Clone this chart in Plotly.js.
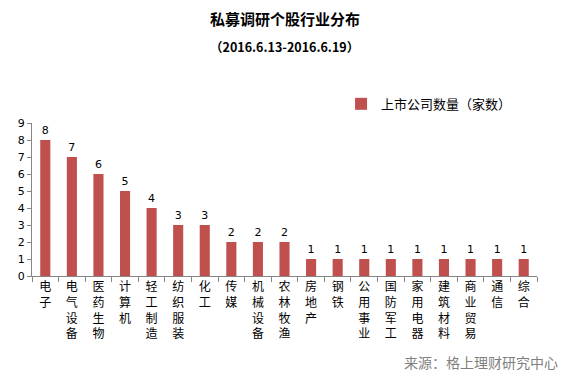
<!DOCTYPE html>
<html><head><meta charset="utf-8">
<script src="https://cdn.plot.ly/plotly-3.0.1.min.js"></script>
<style>body{margin:0;background:#fff}#c{width:563px;height:376px}</style>
</head><body><div id="c"></div>
<script>
const categories = ["电子","电气设备","医药生物","计算机","轻工制造","纺织服装","化工","传媒","机械设备","农林牧渔","房地产","钢铁","公用事业","国防军工","家用电器","建筑材料","商业贸易","通信","综合"];
const values = [8,7,6,5,4,3,3,2,2,2,1,1,1,1,1,1,1,1,1];
const seriesName = "上市公司数量（家数）";
const titleText = "私募调研个股行业分布";
const subtitleText = "（2016.6.13-2016.6.19）";
const sourceText = "来源：格上理财研究中心";

const cjk = '"Noto Sans CJK SC", "Noto Sans", sans-serif';
const vertLabels = categories.map(c => c.split('').join('<br>'));
const idx = categories.map((c,i)=>i);
const bounds = categories.map((c,i)=>i-0.5).concat([categories.length-0.5]);

const trace = {
  type:'bar', x: idx, y: values, name: seriesName,
  marker:{color:'#C0504D'},
  text: values.map(String), textposition:'outside', cliponaxis:false,
  textfont:{family:'DejaVu Sans, sans-serif', size:11, color:'#000'},
  showlegend:true
};
const dummy = {type:'scatter', x:[0], y:[0], xaxis:'x2', mode:'markers', marker:{opacity:0}, showlegend:false, hoverinfo:'skip'};

const layout = {
  width:563, height:376,
  margin:{l:32, r:26, t:123, b:100},
  paper_bgcolor:'#fff', plot_bgcolor:'#fff',
  bargap:0.62,
  font:{family:cjk, color:'#000'},
  xaxis:{range:[-0.5, categories.length-0.5], tickmode:'array', tickvals: idx, ticktext: vertLabels,
         ticks:'', showline:true, linecolor:'#868686', linewidth:1, showgrid:false, zeroline:false,
         tickfont:{family:cjk, size:12, color:'#000'}, tickangle:0, fixedrange:true},
  xaxis2:{overlaying:'x', range:[-0.5, categories.length-0.5], tickmode:'array', tickvals: bounds,
          ticks:'outside', ticklen:5, tickcolor:'#868686', showticklabels:false, showline:false,
          showgrid:false, zeroline:false, anchor:'y', side:'bottom'},
  yaxis:{range:[0,9], dtick:1, tick0:0, ticks:'outside', ticklen:4, tickcolor:'#868686',
         showline:true, linecolor:'#868686', showgrid:false, zeroline:false,
         tickfont:{family:'DejaVu Sans, sans-serif', size:11, color:'#000'}},
  legend:{x:0.612, y:1.125, xanchor:'left', yanchor:'middle', orientation:'h',
          font:{family:cjk, size:13, color:'#000'}, bgcolor:'rgba(0,0,0,0)'},
  annotations:[
    {text:'<b>'+titleText+'</b>', xref:'paper', yref:'paper', x:0.5, y:1.686, showarrow:false,
     xanchor:'center', yanchor:'middle', font:{family:cjk, size:15, color:'#000'}},
    {text:'<b>'+subtitleText+'</b>', xref:'paper', yref:'paper', x:0.5, y:1.497, showarrow:false,
     xanchor:'center', yanchor:'middle', font:{family:cjk, size:12.5, color:'#000'}},
    {text:sourceText, xref:'paper', yref:'paper', x:1.0455, y:-0.565, showarrow:false,
     xanchor:'right', yanchor:'middle', font:{family:cjk, size:14, color:'#7f7f7f'}}
  ]
};
Plotly.newPlot('c',[trace,dummy],layout,{displayModeBar:false, staticPlot:true});
</script></body></html>
